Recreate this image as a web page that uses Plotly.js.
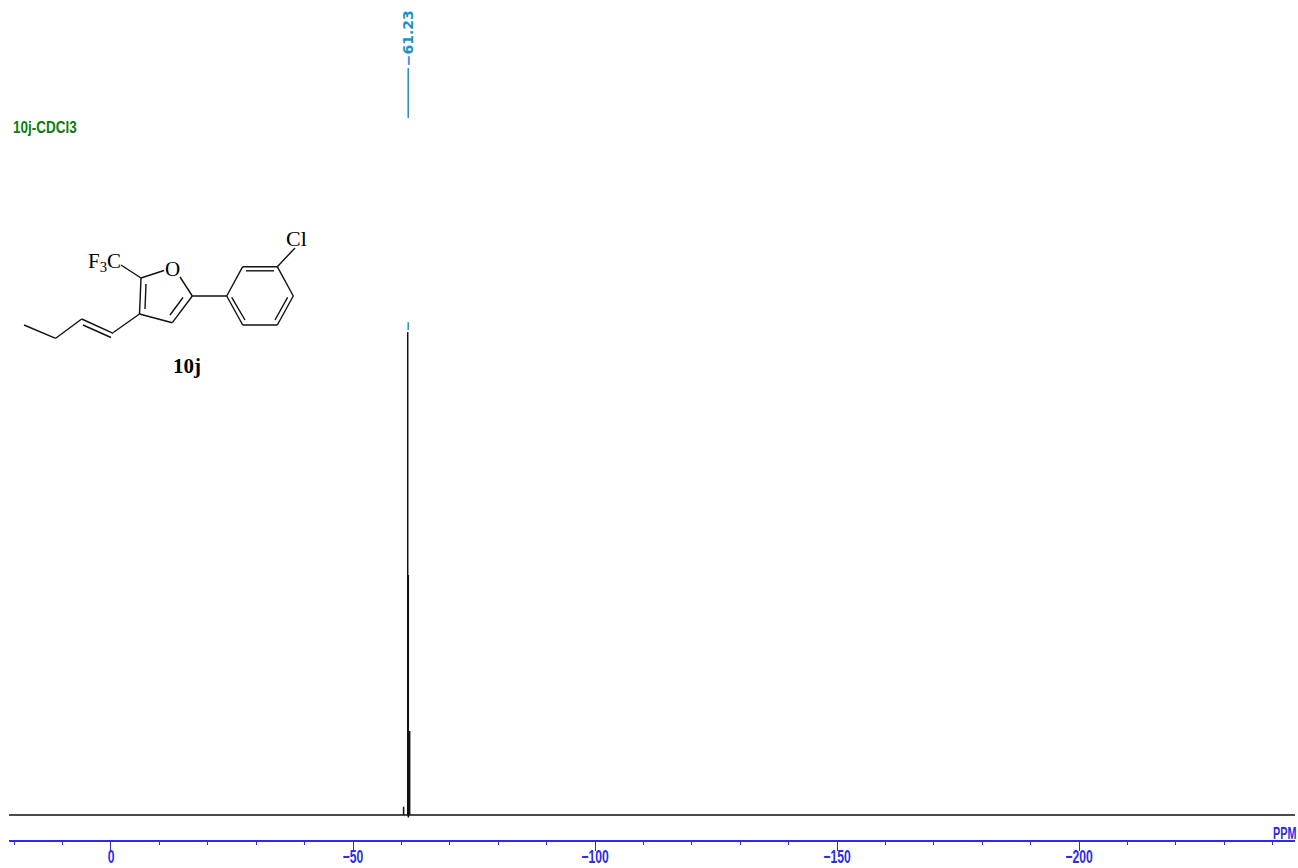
<!DOCTYPE html>
<html><head><meta charset="utf-8">
<script src="https://cdn.plot.ly/plotly-3.0.1.min.js"></script>
<style>html,body{margin:0;padding:0;background:#fff}#c{width:1298px;height:868px}</style>
</head><body><div id="c"></div>
<script>
// spectrum values (ppm, relative intensity)
const spectrumPpm = [21.07, -60.45, -60.45, -60.45, -61.25, -61.3, -61.3, -61.3, -61.36, -61.42, -61.42, -61.42, -61.5, -61.55, -61.55, -61.55, -61.63, -61.7, -61.7, -61.7, -61.8, -244.6];
const spectrumInt = [0, 0, 1.7, 0, 0, 0, 100, 0, 0, 0, 49.7, -0.5, 0, 0, 17.4, 0, 0, 0, 17.4, 0, 0, 0];
const pickPpm = [-61.4];
const peakLabels = ['\u221261.23'];
const majorTick = 50, minorTick = 10;
const sampleLabel = '10j-CDCl3', unitLabel = 'PPM', compoundLabel = '10j';

// page-pixel helpers for the plot area
const W = 1298, H = 868, L = 9, R = 1295, B = 840;
const px = x => (x - L) / (R - L), py = y => (B - y) / B;
const ink = '#000', blue = '#2a2af5', cyan = '#1e90c8', green = '#0a7d0a';

// structure sketch: bonds as page-pixel segments
const bonds = [
 [24,325,55.7,338.3],[55.7,338.3,81.7,319],[81.7,319,113.3,333.3],[83,325,111,337.5],
 [113.3,332.5,139.5,314],[139.5,314,141,278],[145,309,146,284],[141,278,164,270.5],
 [180,277,192.3,296],[192.3,296,172.3,322.7],[183,297.5,170,315],[172.3,322.7,139.5,314],
 [141,278,121,265],[192.3,296,226.7,296],
 [226.7,296,242.7,266.7],[242.7,266.7,277.3,266.7],[277.3,266.7,293.3,296],[293.3,296,277.3,325],
 [277.3,325,242.7,325],[242.7,325,226.7,296],[246,270.8,274,270.8],[287.6,297.3,275,320],
 [231.7,297.3,245,320],[277.3,266.7,295,248]
];
const shapes = bonds.map(b => ({type:'line', xref:'paper', yref:'paper',
  x0:px(b[0]), y0:py(b[1]), x1:px(b[2]), y1:py(b[3]), line:{color:'#111', width:1.4}}));

function note(text, x, y, size, color, family, extra) {
  return Object.assign({text, xref:'paper', yref:'paper', x:px(x), y:py(y), showarrow:false,
    xanchor:'center', yanchor:'middle', font:{size, color, family}, borderpad:0}, extra || {});
}
const serif = 'Liberation Serif', sans = 'Liberation Sans';
const annotations = [
  note('<b>'+sampleLabel+'</b>', 12, 127, 15, green, sans, {xanchor:'left'}),
  note('<b>'+unitLabel+'</b>', 1272, 832, 15, blue, sans, {xanchor:'left'}),
  note('F<sub>3</sub>C', 104, 262, 21, ink, serif),
  note('O', 172, 269, 21, ink, serif),
  note('Cl', 296, 238, 22, ink, serif),
  note('<b>'+compoundLabel+'</b>', 187, 366, 21, ink, serif),
  {text:'<b>'+peakLabels[0]+'</b>', x:pickPpm[0], xref:'x', yref:'paper', y:py(38), showarrow:false,
   textangle:-90, xanchor:'center', yanchor:'middle', font:{size:14, color:cyan, family:'DejaVu Sans'}}
];

const traces = [
  {x:spectrumPpm, y:spectrumInt, type:'scatter', mode:'lines', hoverinfo:'skip',
   line:{color:'#111', width:1.5, simplify:false}, showlegend:false},
  {x:[pickPpm[0],pickPpm[0]], y:[144.3,154.6], type:'scatter', mode:'lines', hoverinfo:'skip',
   line:{color:cyan, width:1.5}, showlegend:false},
  {x:[pickPpm[0],pickPpm[0]], y:[100.4,102], type:'scatter', mode:'lines', hoverinfo:'skip',
   line:{color:cyan, width:1.5}, showlegend:false}
];

const layout = {
  width:W, height:H, margin:{l:L, r:W-R, t:0, b:H-B, pad:0}, autosize:false,
  paper_bgcolor:'#fff', plot_bgcolor:'#fff', showlegend:false,
  xaxis:{range:[21.07,-244.6], autorange:false, showgrid:false, zeroline:false, showline:true,
    linecolor:blue, linewidth:1.5, ticks:'outside', ticklen:9, tickwidth:1, tickcolor:blue,
    tick0:0, dtick:majorTick, tickangle:0, ticklabelstandoff:-8,
    tickfont:{family:sans, size:16, color:blue, weight:700},
    minor:{dtick:minorTick, tick0:0, ticks:'outside', ticklen:3, tickwidth:1, tickcolor:blue, showgrid:false}},
  yaxis:{range:[-5.176,168.7], autorange:false, visible:false, showgrid:false, zeroline:false},
  shapes, annotations
};

// condense a text element around its own anchor, as the narrow spectrometer font does
function condense(el, sx, sy, anchorLeft) {
  const b = el.getBBox();
  const cx = anchorLeft ? b.x : b.x + b.width / 2, cy = b.y + b.height / 2;
  const prev = el.getAttribute('transform') || '';
  el.setAttribute('transform', `${prev} translate(${cx},${cy}) scale(${sx},${sy}) translate(${-cx},${-cy})`);
}
Plotly.newPlot('c', traces, layout, {staticPlot:true, displayModeBar:false}).then(() => {
  document.querySelectorAll('#c .xtick text').forEach(t => condense(t, 0.76, 1.15, false));
  document.querySelectorAll('#c .annotation text').forEach(t => {
    const s = t.textContent;
    if (s === sampleLabel) condense(t, 0.9, 1.05, true);
    if (s === unitLabel) condense(t, 0.72, 1.1, true);
  });
});
</script></body></html>
